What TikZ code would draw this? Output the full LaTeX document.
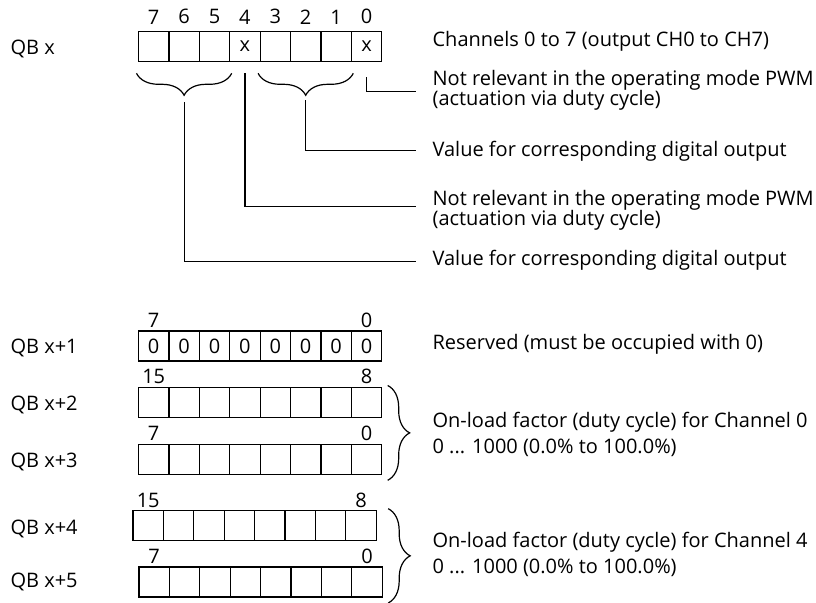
\documentclass[tikz,border=0pt]{standalone}
\usepackage{fontspec}
\setmainfont{Open Sans}
\usetikzlibrary{positioning,decorations.pathreplacing}
\newcommand{\widthbit}{15.2pt}
\newcommand{\heightbit}{15pt}
% one byte: eight cells from bit 7 down to bit 0, west end at coordinate #1
\newcommand{\register}[2]{%
    \foreach \entry [count=\k from 0, evaluate=\k as \b using int(7-\k)] in {#2}
        \node[bit] (#1-\b) at ([xshift=\k*\widthbit]#1) {\entry};
}
% numbers of the outer bits above a byte
\newcommand{\bitrange}[3]{%
    \node[bitno, above=1.4pt of #1-7] (#1-hi) {#2};
    \node[bitno, above=1.4pt of #1-0] (#1-lo) {#3};
}
\tikzset{
    bit/.style={draw, rectangle, anchor=west, minimum width=\widthbit, minimum height=\heightbit, inner sep=0pt, outer sep=0pt},
    bitno/.style={inner sep=0pt},
    desc/.style={anchor=base west, inner sep=0pt, align=left},
    wire/.style={line width=0.6pt},
    curly/.style 2 args={decorate, decoration={brace, amplitude=#1, raise=#2}, line width=0.6pt}
}

\begin{document}
\begin{tikzpicture}[x=0.5pt, y=-0.5pt, line width=0.6pt, font=\fontsize{10pt}{10pt}\selectfont]
    \useasboundingbox (0,0) rectangle (816,603);

    \coordinate (qbx) at (138.5,46.3);
    \coordinate (qbx1) at (138.5,346);
    \coordinate (qbx2) at (138.5,402.5);
    \coordinate (qbx3) at (138.5,459.3);
    \coordinate (qbx4) at (133,525.7);
    \coordinate (qbx5) at (139,582);

    \register{qbx}{{},{},{},x,{},{},{},x}
    \register{qbx1}{0,0,0,0,0,0,0,0}
    \register{qbx2}{{},{},{},{},{},{},{},{}}
    \register{qbx3}{{},{},{},{},{},{},{},{}}
    \register{qbx4}{{},{},{},{},{},{},{},{}}
    \register{qbx5}{{},{},{},{},{},{},{},{}}

    \foreach \b in {7,...,0}
        \node[bitno, above=3.3pt of qbx-\b] (qbx-no\b) {\b};
    \bitrange{qbx1}{7}{0}
    \bitrange{qbx2}{15}{8}
    \bitrange{qbx3}{7}{0}
    \bitrange{qbx4}{15}{8}
    \bitrange{qbx5}{7}{0}

    % byte names
    \node[desc] (name0) at (10,55) {QB x};
    \node[desc] (name1) at (10,354) {QB x+1};
    \node[desc] (name2) at (10,410.7) {QB x+2};
    \node[desc] (name3) at (10,467.3) {QB x+3};
    \node[desc] (name4) at (10,534.3) {QB x+4};
    \node[desc] (name5) at (10,587.3) {QB x+5};

    % meaning of the bits (base = baseline of the last line)
    \node[desc] (chan) at (432,46.7) {Channels 0 to 7 (output CH0 to CH7)};
    \node[desc] (pwm0) at (432,106) {Not relevant in the operating mode PWM\\(actuation via duty cycle)};
    \node[desc] (val31) at (432,156.7) {Value for corresponding digital output};
    \node[desc] (pwm4) at (432,225.7) {Not relevant in the operating mode PWM\\(actuation via duty cycle)};
    \node[desc] (val75) at (432,266) {Value for corresponding digital output};
    \node[desc] (res) at (432,350) {Reserved (must be occupied with 0)};
    \node[desc] (duty0) at (432,454) {On-load factor (duty cycle) for Channel 0\\[3.3pt]0 ... 1000 (0.0\% to 100.0\%)};
    \node[desc] (duty4) at (432,574) {On-load factor (duty cycle) for Channel 4\\[3.3pt]0 ... 1000 (0.0\% to 100.0\%)};

    \coordinate (e-bit0) at (416,91.7);
    \coordinate (e-bits31) at (416,150.7);
    \coordinate (e-bit4) at (416,206.7);
    \coordinate (e-bits75) at (416,261.7);

    \draw[curly={11pt}{6pt}] ([xshift=1pt]qbx-1.south east) -- coordinate[midway] (tip31) ([xshift=-1pt]qbx-3.south west);
    \draw[curly={11pt}{6pt}] ([xshift=1pt]qbx-5.south east) -- coordinate[midway] (tip75) ([xshift=-1pt]qbx-7.south west);
    \draw[wire] ([yshift=-8pt]qbx-0.south) |- (e-bit0);
    \draw[wire] ([yshift=-19.5pt]tip31) |- (e-bits31);
    \draw[wire] ([yshift=-6pt]qbx-4.south) |- (e-bit4);
    \draw[wire] ([yshift=-20.5pt]tip75) |- (e-bits75);

    \draw[curly={11pt}{3pt}] ([yshift=1pt]qbx2-0.north east) -- ([yshift=-3pt]qbx3-0.south east);
    \draw[curly={11pt}{3pt}] ([yshift=1pt]qbx5-0.south east |- qbx4-0.north east) -- ([yshift=-3pt]qbx5-0.south east);
\end{tikzpicture}
\end{document}
